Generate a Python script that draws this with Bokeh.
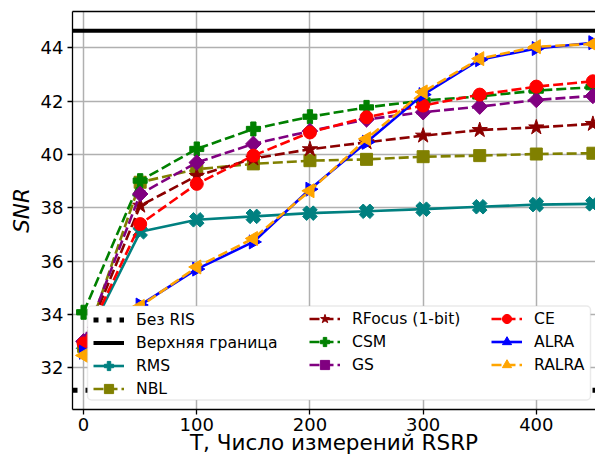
import numpy as np
from bokeh.plotting import figure
from bokeh.models import (Range1d, Legend, LegendItem, LinearAxis, BoxAnnotation,
                          FixedTicker)
from bokeh.embed import file_html
from bokeh.resources import INLINE

# ---------------- data ----------------
T = [0, 50, 100, 150, 200, 250, 300, 350, 400, 450]
snr_no_ris = 31.15      # Без RIS
snr_upper = 44.65       # Верхняя граница
rms    = [32.85, 37.10, 37.55, 37.68, 37.80, 37.87, 37.95, 38.04, 38.12, 38.15]
nbl    = [32.80, 38.96, 39.45, 39.65, 39.77, 39.82, 39.92, 39.96, 40.02, 40.05]
rfocus = [32.90, 38.08, 39.20, 39.85, 40.20, 40.46, 40.71, 40.92, 41.02, 41.15]
csm    = [34.08, 39.02, 40.21, 40.96, 41.42, 41.77, 42.03, 42.18, 42.40, 42.53]
gs     = [32.99, 38.52, 39.70, 40.40, 40.88, 41.32, 41.59, 41.80, 42.05, 42.20]
ce     = [32.91, 37.39, 38.90, 39.96, 40.83, 41.40, 41.84, 42.25, 42.55, 42.75]
alra   = [32.58, 34.35, 35.70, 36.72, 38.70, 40.46, 42.25, 43.56, 43.98, 44.20]
ralra  = [32.46, 34.30, 35.78, 36.85, 38.64, 40.59, 42.35, 43.60, 44.05, 44.15]

x_ticks = [0, 100, 200, 300, 400]
y_ticks = [32, 34, 36, 38, 40, 42, 44]
x_label = "T, Число измерений RSRP"
y_label = "SNR"

# ---------------- layout ----------------
X_LO, X_HI = -9.8, 452.3
Y_LO, Y_HI = 30.43, 45.37
W, H = 595, 459
BL, BR, BT, BB = 72, 0, 11, 50
FONT = "DejaVu Sans"

p = figure(width=W, height=H, x_range=Range1d(X_LO, X_HI), y_range=Range1d(Y_LO, Y_HI),
           output_backend="svg", toolbar_location=None,
           min_border_left=BL, min_border_right=BR, min_border_top=BT, min_border_bottom=BB)
p.outline_line_color = None
p.background_fill_color = "white"

for ax in (p.xaxis[0], p.yaxis[0]):
    ax.axis_line_color = "black"
    ax.axis_line_width = 1.3
    ax.major_tick_line_color = "black"
    ax.major_tick_line_width = 1.3
    ax.major_tick_out = 5
    ax.major_tick_in = 0
    ax.minor_tick_line_color = None
    ax.major_label_text_font = FONT
    ax.major_label_text_font_size = "18px"
    ax.major_label_text_color = "black"
    ax.axis_label_text_font = FONT
    ax.axis_label_text_font_size = "21.5px"
    ax.axis_label_text_color = "black"

p.xaxis.ticker = FixedTicker(ticks=x_ticks)
p.yaxis.ticker = FixedTicker(ticks=y_ticks)
p.xaxis.axis_label = x_label
p.yaxis.axis_label = y_label
p.yaxis.axis_label_text_font_style = "italic"
p.xaxis.axis_label_text_font_style = "normal"
p.xaxis.major_label_standoff = 3
p.xaxis.axis_label_standoff = -4
p.yaxis.major_label_standoff = 4
p.yaxis.axis_label_standoff = 4

# top spine
top = LinearAxis(ticker=FixedTicker(ticks=[]), major_tick_line_color=None,
                 minor_tick_line_color=None, major_label_text_font_size="0px",
                 axis_line_color="black", axis_line_width=1.3, major_label_standoff=0)
p.add_layout(top, "above")

p.xgrid.ticker = FixedTicker(ticks=x_ticks)
p.ygrid.ticker = FixedTicker(ticks=y_ticks)
for g in (p.xgrid[0], p.ygrid[0]):
    g.grid_line_color = "#b0b0b0"
    g.grid_line_width = 1.5

LW = 2.6
DASH = "10 4"

r_nr = p.line([X_LO, X_HI], [snr_no_ris, snr_no_ris], line_color="black", line_width=5,
              line_dash="5 8", line_cap="butt")
r_up = p.line([X_LO, X_HI], [snr_upper, snr_upper], line_color="black", line_width=4)

def series(y, color, marker, size, dash=None, angle=0.0):
    kw = dict(line_color=color, line_width=LW)
    if dash:
        kw["line_dash"] = dash
    l = p.line(T, y, **kw)
    s = p.scatter(T, y, marker=marker, size=size, fill_color=color, line_color=color,
                  line_width=1, angle=angle)
    return [l, s]

r_rms = series(rms, "#008080", "plus", 15, None, np.pi / 4)
r_nbl = series(nbl, "#808000", "square", 12, DASH)
r_rf = series(rfocus, "#8B0000", "star", 16, DASH)
r_csm = series(csm, "#008000", "plus", 14, DASH)
r_gs = series(gs, "#800080", "square", 11, DASH, np.pi / 4)
r_ce = series(ce, "#FF0000", "circle", 13, DASH)
r_alra = series(alra, "#0000FF", "triangle", 14, None, -np.pi / 2)
r_ralra = series(ralra, "#FFA500", "triangle", 14, DASH, np.pi / 2)

# legend frame (screen px -> data)
FW = W - BL - BR
FH = H - BT - BB
def sx2d(px):
    return X_LO + (px - BL) / FW * (X_HI - X_LO)
def sy2d(py):
    return Y_HI - (py - BT) / FH * (Y_HI - Y_LO)

box = BoxAnnotation(left=sx2d(87), right=sx2d(590), top=sy2d(305.5), bottom=sy2d(399.5),
                    fill_color="white", fill_alpha=1.0, line_color="#b8b8b8",
                    line_width=1.5, border_radius=4, level="annotation")
p.add_layout(box)

def mk_legend(items, loc):
    lg = Legend(items=items, location=loc, padding=0, margin=0, spacing=0,
                glyph_width=31, glyph_height=23, label_height=23, label_standoff=12,
                label_text_font=FONT, label_text_font_size="15.6px",
                label_text_color="black", background_fill_alpha=0,
                border_line_alpha=0, click_policy="none")
    p.add_layout(lg)

mk_legend([LegendItem(label="Без RIS", renderers=[r_nr]),
           LegendItem(label="Верхняя граница", renderers=[r_up]),
           LegendItem(label="RMS", renderers=r_rms),
           LegendItem(label="NBL", renderers=r_nbl)], (21, 9))
mk_legend([LegendItem(label="RFocus (1-bit)", renderers=r_rf),
           LegendItem(label="CSM", renderers=r_csm),
           LegendItem(label="GS", renderers=r_gs)], (237, 33))
mk_legend([LegendItem(label="CE", renderers=r_ce),
           LegendItem(label="ALRA", renderers=r_alra),
           LegendItem(label="RALRA", renderers=r_ralra)], (419, 33))

open("out.html", "w").write(file_html(p, INLINE))
